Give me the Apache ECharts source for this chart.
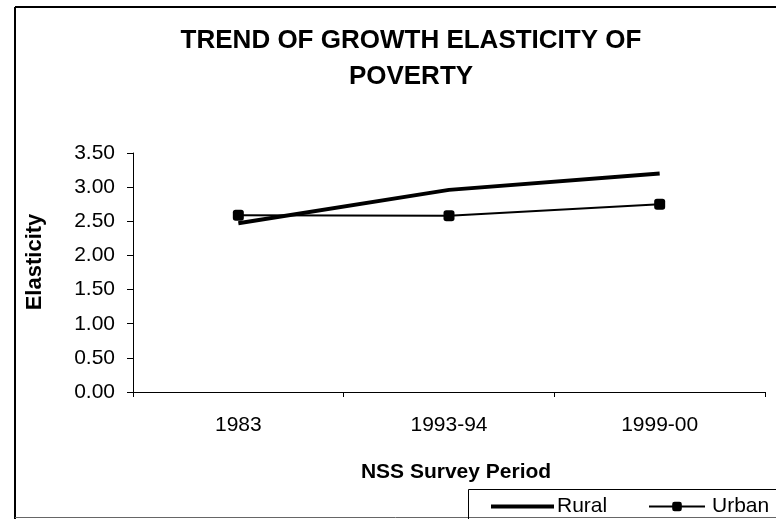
<!DOCTYPE html>
<html>
<head>
<meta charset="utf-8">
<script src="https://cdn.jsdelivr.net/npm/echarts@6/dist/echarts.min.js"></script>
<style>
  html, body { margin: 0; padding: 0; background: #fff; }
  #chart { width: 776px; height: 519px; }
</style>
</head>
<body>
<div id="chart"></div>
<script>
// Survey periods on the category axis
const periods = ['1983', '1993-94', '1999-00'];
// Growth elasticity of poverty by sector
const rural = [2.47, 2.96, 3.20];
const urban = [2.59, 2.58, 2.75];
// Value axis ticks
const yMin = 0, yMax = 3.5, yStep = 0.5;

const FONT = '"Liberation Sans", Arial, sans-serif';
const chart = echarts.init(document.getElementById('chart'), null, { renderer: 'canvas' });

const legendText = { fontFamily: FONT, fontSize: 21, color: '#000' };

chart.setOption({
  backgroundColor: '#ffffff',
  animation: false,
  title: [{
    text: 'TREND OF GROWTH ELASTICITY OF\nPOVERTY',
    left: 406, top: 18, textAlign: 'center',
    textStyle: { fontFamily: FONT, fontSize: 26, fontWeight: 'bold', color: '#000', lineHeight: 36 }
  }, {
    text: 'NSS Survey Period',
    left: 451, top: 457, textAlign: 'center',
    textStyle: { fontFamily: FONT, fontSize: 21, fontWeight: 'bold', color: '#000' }
  }],
  grid: { left: 133, right: 11, top: 153, bottom: 127, containLabel: false },
  xAxis: {
    type: 'category',
    data: periods,
    boundaryGap: true,
    axisLine: { show: true, lineStyle: { color: '#000', width: 1 } },
    axisTick: { show: true, inside: false, length: 5, lineStyle: { color: '#000' } },
    axisLabel: { fontFamily: FONT, fontSize: 21, color: '#000', margin: 23 },
    splitLine: { show: false }
  },
  yAxis: {
    type: 'value',
    min: yMin, max: yMax, interval: yStep,
    axisLine: { show: true, lineStyle: { color: '#000', width: 1 } },
    axisTick: { show: true, inside: false, length: 6, lineStyle: { color: '#000' } },
    axisLabel: { fontFamily: FONT, fontSize: 21, color: '#000', margin: 18,
      formatter: v => v.toFixed(2) },
    splitLine: { show: false }
  },
  legend: [{
    // thick plain stroke for the Rural key
    left: 486, top: 491,
    itemWidth: 63, itemHeight: 4, itemGap: 0,
    textStyle: Object.assign({ padding: [0, 0, 0, -2] }, legendText),
    data: [{ name: 'Rural', icon: 'rect', itemStyle: { color: '#000' } }]
  }, {
    left: 643, top: 491,
    itemWidth: 56, itemHeight: 12, itemGap: 0,
    textStyle: Object.assign({ padding: [0, 0, 0, 2] }, legendText),
    data: ['Urban']
  }],
  series: [{
    name: 'Rural',
    type: 'line',
    data: rural,
    symbol: 'none',
    lineStyle: { color: '#000', width: 4 },
    itemStyle: { color: '#000' },
    z: 3
  }, {
    name: 'Urban',
    type: 'line',
    data: urban,
    symbol: 'roundRect',
    symbolSize: 11,
    lineStyle: { color: '#000', width: 2 },
    itemStyle: { color: '#000' },
    z: 4
  }],
  graphic: [
    // chart-area frame
    { type: 'line', shape: { x1: 15, y1: 7, x2: 776, y2: 7 }, style: { stroke: '#000', lineWidth: 2 } },
    { type: 'line', shape: { x1: 15, y1: 7, x2: 15, y2: 519 }, style: { stroke: '#000', lineWidth: 2 } },
    { type: 'line', shape: { x1: 15, y1: 517.5, x2: 776, y2: 517.5 }, style: { stroke: '#666', lineWidth: 1 } },
    // legend box
    { type: 'rect', shape: { x: 468.5, y: 489.5, width: 320, height: 40 }, style: { fill: 'none', stroke: '#000', lineWidth: 1 } },
    // value-axis title
    { type: 'text', x: 35, y: 262, rotation: Math.PI / 2,
      style: { text: 'Elasticity', font: 'bold 22px ' + FONT, fill: '#000', align: 'center', verticalAlign: 'middle' } }
  ]
});
</script>
</body>
</html>
